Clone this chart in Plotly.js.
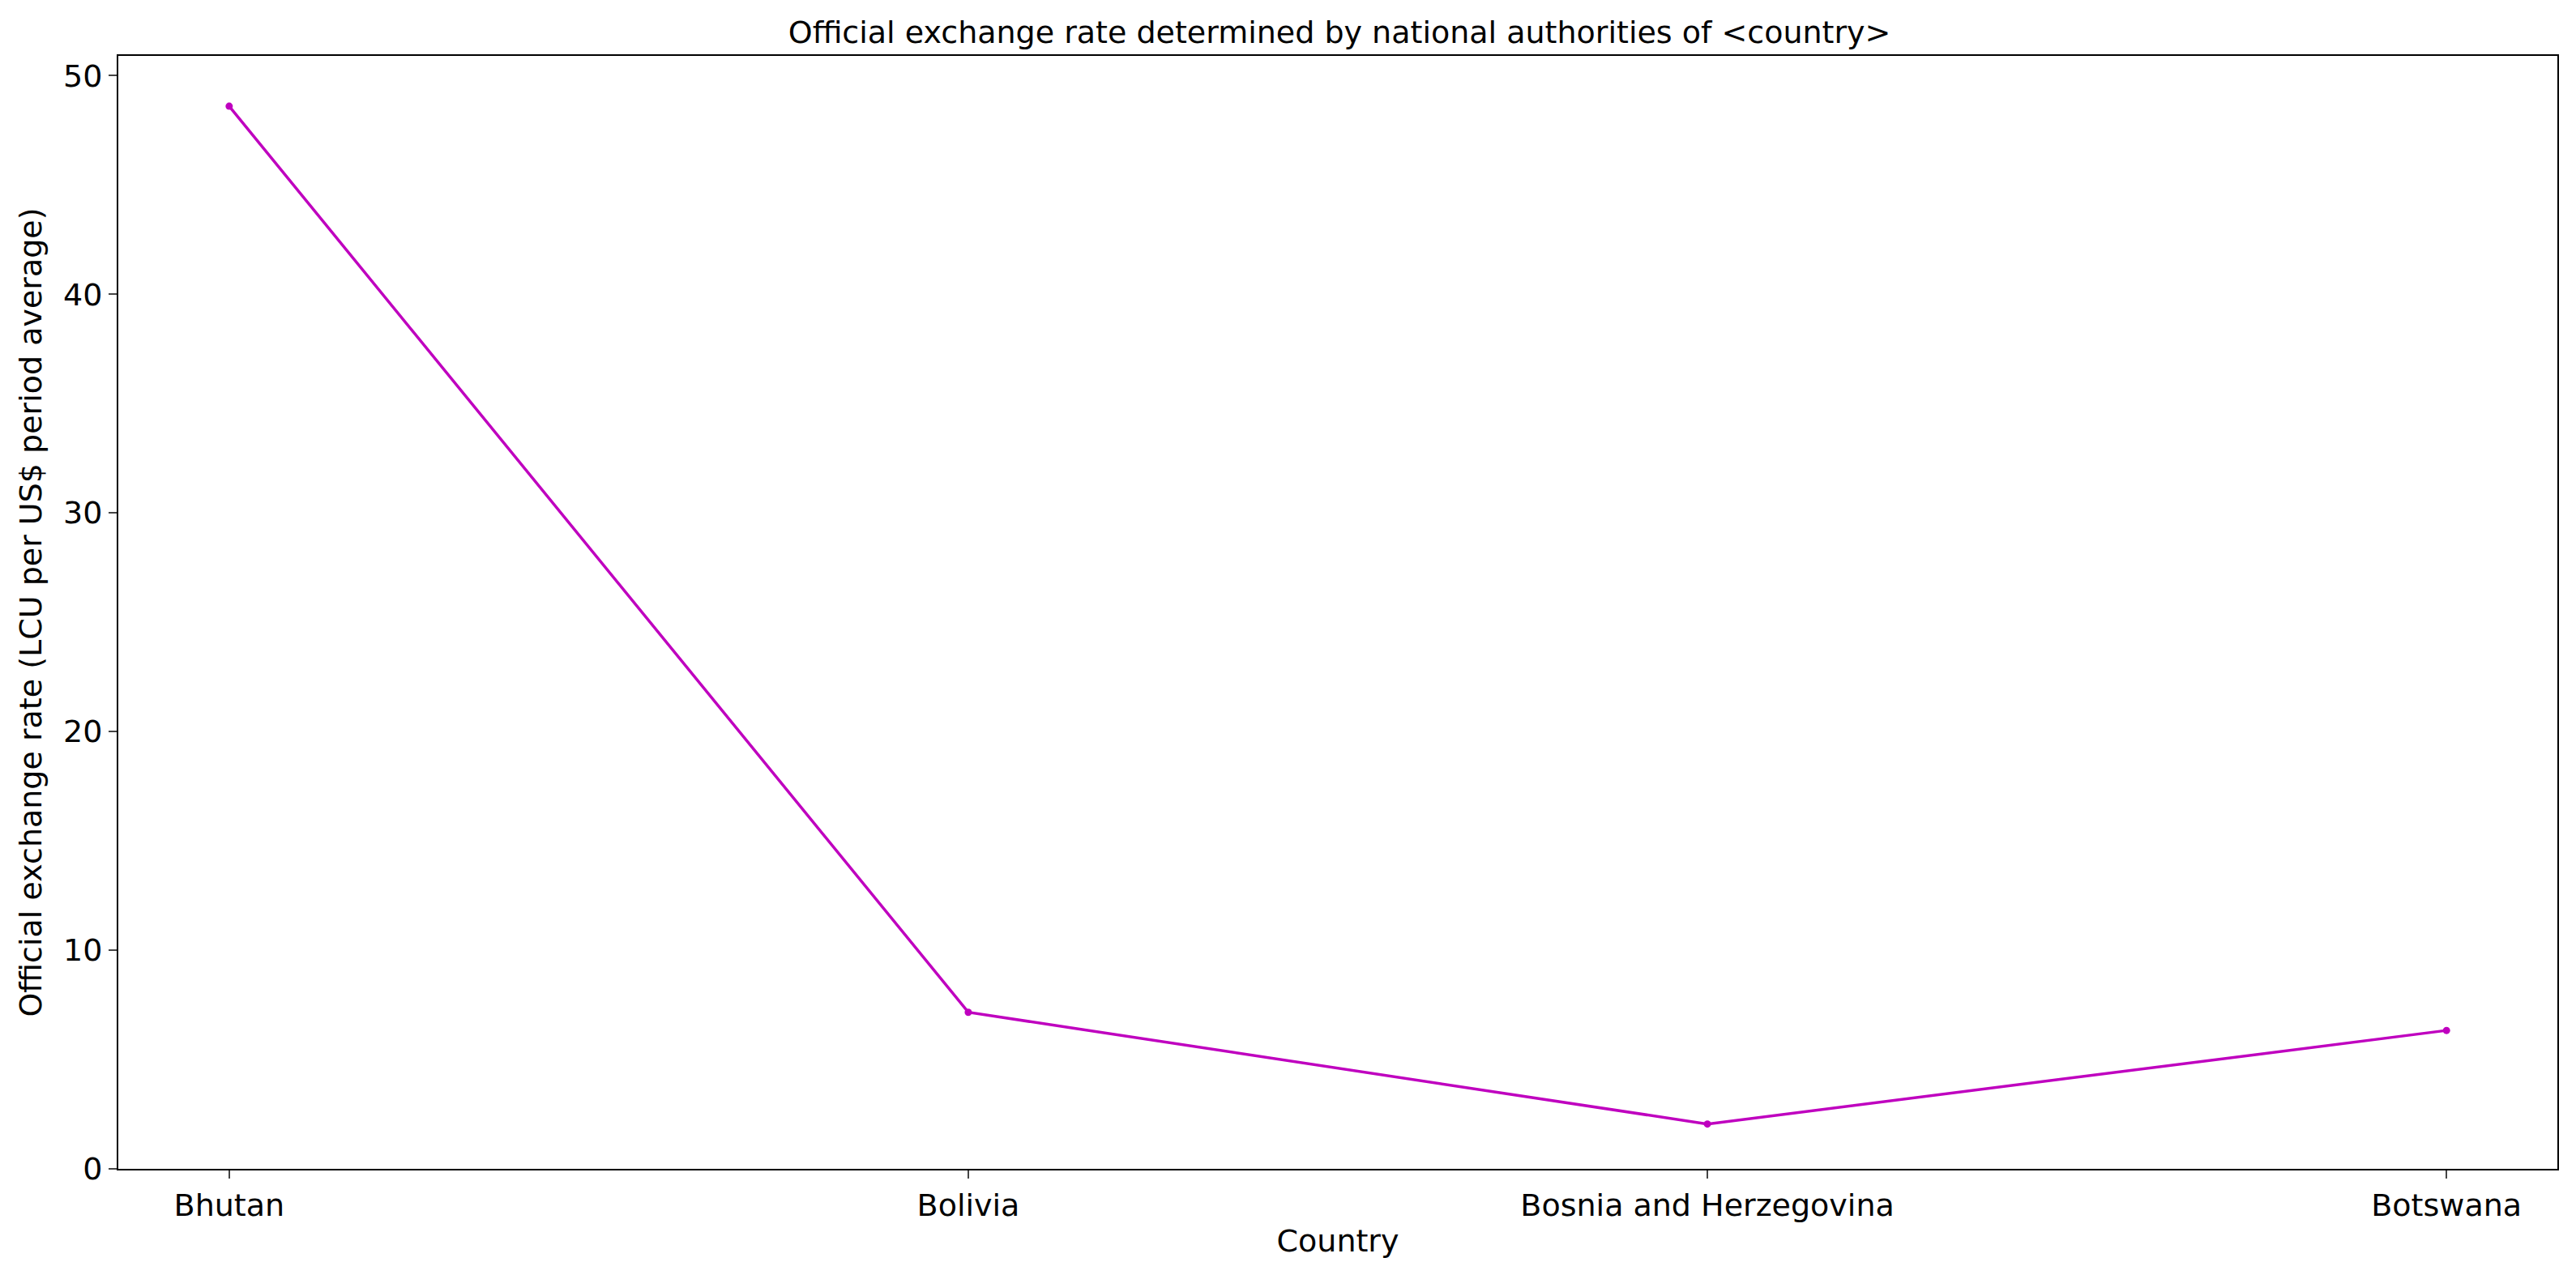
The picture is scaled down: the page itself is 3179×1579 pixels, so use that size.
<!DOCTYPE html>
<html><head><meta charset="utf-8">
<script src="https://cdn.plot.ly/plotly-3.0.1.min.js"></script>
<style>body{margin:0}</style></head><body>
<div id="c" style="width:3179px;height:1579px"></div>
<script>
const countries = ["Bhutan","Bolivia","Bosnia and Herzegovina","Botswana"];
const rates = [48.6, 7.16, 2.05, 6.33];
Plotly.newPlot('c',[{x:[0,1,2,3],y:rates,type:'scatter',mode:'lines+markers',
 line:{color:'#bf00bf',width:3.5},marker:{color:'#bf00bf',size:9}}],{
 width:3179,height:1579,paper_bgcolor:'white',plot_bgcolor:'white',
 font:{family:'DejaVu Sans',color:'black',size:38},
 margin:{l:146,r:23,t:69,b:136},
 title:{text:'Official exchange rate determined by national authorities of &lt;country&gt;',font:{size:38},x:0.52,xanchor:'center',y:0.975,yanchor:'middle'},
 xaxis:{range:[-0.15,3.15],tickvals:[0,1,2,3],ticktext:countries,showgrid:false,zeroline:false,
  showline:true,mirror:true,linecolor:'black',linewidth:2,ticks:'outside',ticklen:10,tickwidth:2,
  title:{text:'Country',font:{size:38},standoff:10}},
 yaxis:{range:[0,50.9],dtick:10,showgrid:false,zeroline:false,showline:true,mirror:true,
  linecolor:'black',linewidth:2,ticks:'outside',ticklen:10,tickwidth:2,
  title:{text:'Official exchange rate (LCU per US$ period average)',font:{size:38},standoff:15}},
 showlegend:false},{staticPlot:true});
</script></body></html>
